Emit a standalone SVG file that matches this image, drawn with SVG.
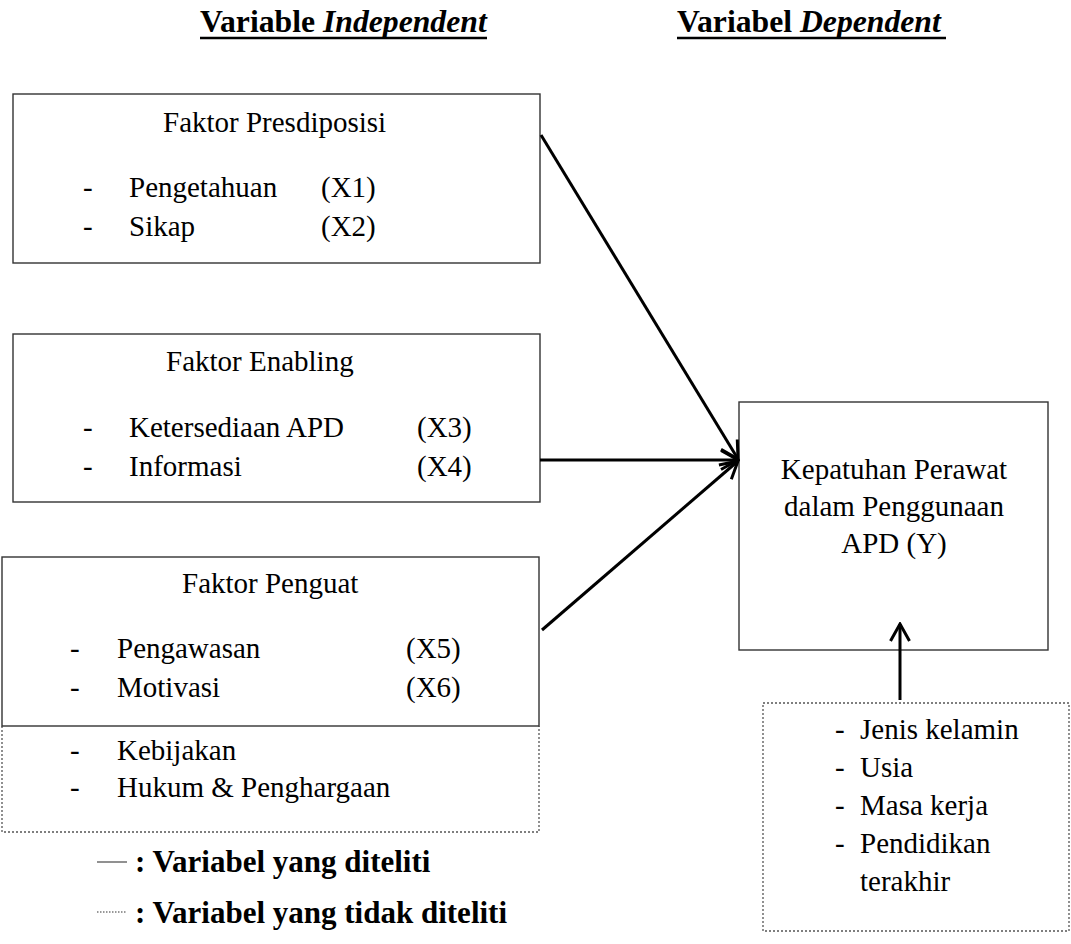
<svg xmlns="http://www.w3.org/2000/svg" width="1071" height="944" viewBox="0 0 1071 944">
<defs>
<style>
.t{font-family:'Liberation Serif','Times New Roman','DejaVu Serif',serif;font-size:29px;fill:#000}
.h{font-family:'Liberation Serif','Times New Roman','DejaVu Serif',serif;font-size:31.7px;font-weight:bold;fill:#000}
.lg{font-family:'Liberation Serif','Times New Roman','DejaVu Serif',serif;font-size:31px;font-weight:bold;fill:#000}
.box{fill:#fff;stroke:#333;stroke-width:1.4}
.dot{fill:none;stroke:#555;stroke-width:1.3;stroke-dasharray:2,2}
.con{fill:none;stroke:#000;stroke-width:3}
</style>
<marker id="ah" markerUnits="userSpaceOnUse" viewBox="-20 -12 22 24" refX="0" refY="0" markerWidth="22" markerHeight="24" orient="auto">
<path d="M-17,-9.5 L0,0 L-17,9.5" fill="none" stroke="#000" stroke-width="3"/>
</marker>
</defs>
<rect width="1071" height="944" fill="#fff"/>

<g id="headers">
<text class="h" x="200" y="32">Variable <tspan font-style="italic">Independent</tspan></text>
<line x1="200" y1="38" x2="487" y2="38" stroke="#000" stroke-width="2.5"/>
<text class="h" x="677" y="32">Variabel <tspan font-style="italic">Dependent</tspan></text>
<line x1="677" y1="38" x2="946" y2="38" stroke="#000" stroke-width="2.5"/>
</g>

<g id="box-presdiposisi">
<rect class="box" x="13" y="94" width="527" height="169"/>
<text class="t" x="163" y="132">Faktor Presdiposisi</text>
<text class="t" x="83" y="197">-</text>
<text class="t" x="129" y="197">Pengetahuan</text>
<text class="t" x="321" y="197">(X1)</text>
<text class="t" x="83" y="236">-</text>
<text class="t" x="129" y="236">Sikap</text>
<text class="t" x="321" y="236">(X2)</text>
</g>

<g id="box-enabling">
<rect class="box" x="13" y="334" width="527" height="168"/>
<text class="t" x="166" y="371">Faktor Enabling</text>
<text class="t" x="83" y="437">-</text>
<text class="t" x="129" y="437">Ketersediaan APD</text>
<text class="t" x="417" y="437">(X3)</text>
<text class="t" x="83" y="476">-</text>
<text class="t" x="129" y="476">Informasi</text>
<text class="t" x="417" y="476">(X4)</text>
</g>

<g id="box-penguat">
<path class="dot" d="M2,726 L2,832 L539,832 L539,726"/>
<rect class="box" x="2" y="557" width="537" height="169"/>
<text class="t" x="182" y="593">Faktor Penguat</text>
<text class="t" x="70" y="658">-</text>
<text class="t" x="117" y="658">Pengawasan</text>
<text class="t" x="406" y="658">(X5)</text>
<text class="t" x="70" y="697">-</text>
<text class="t" x="117" y="697">Motivasi</text>
<text class="t" x="406" y="697">(X6)</text>
<text class="t" x="70" y="760">-</text>
<text class="t" x="117" y="760">Kebijakan</text>
<text class="t" x="70" y="797">-</text>
<text class="t" x="117" y="797">Hukum &amp; Penghargaan</text>
</g>

<g id="box-kepatuhan">
<rect class="box" x="739" y="402" width="309" height="248"/>
<text class="t" x="894" y="479" text-anchor="middle">Kepatuhan Perawat</text>
<text class="t" x="894" y="516" text-anchor="middle">dalam Penggunaan</text>
<text class="t" x="894" y="553" text-anchor="middle">APD (Y)</text>
</g>

<g id="box-karakteristik">
<rect class="dot" x="763" y="703" width="306" height="228"/>
<text class="t" x="835" y="739">-</text>
<text class="t" x="860" y="739">Jenis kelamin</text>
<text class="t" x="835" y="777">-</text>
<text class="t" x="860" y="777">Usia</text>
<text class="t" x="835" y="815">-</text>
<text class="t" x="860" y="815">Masa kerja</text>
<text class="t" x="835" y="853">-</text>
<text class="t" x="860" y="853">Pendidikan</text>
<text class="t" x="860" y="891">terakhir</text>
</g>

<g id="connectors">
<line class="con" x1="541" y1="135" x2="738" y2="459" marker-end="url(#ah)"/>
<line class="con" x1="540" y1="460" x2="738" y2="460" marker-end="url(#ah)"/>
<line class="con" x1="542" y1="630" x2="738" y2="461" marker-end="url(#ah)"/>
<line class="con" x1="900" y1="700" x2="900" y2="624" marker-end="url(#ah)"/>
</g>

<g id="legend">
<line x1="97" y1="862" x2="127" y2="862" stroke="#555" stroke-width="1.3"/>
<text class="lg" x="135" y="872">: Variabel yang diteliti</text>
<line x1="97" y1="912" x2="127" y2="912" stroke="#777" stroke-width="1.3" stroke-dasharray="1.5,1.5"/>
<text class="lg" x="135" y="923">: Variabel yang tidak diteliti</text>
</g>
</svg>
